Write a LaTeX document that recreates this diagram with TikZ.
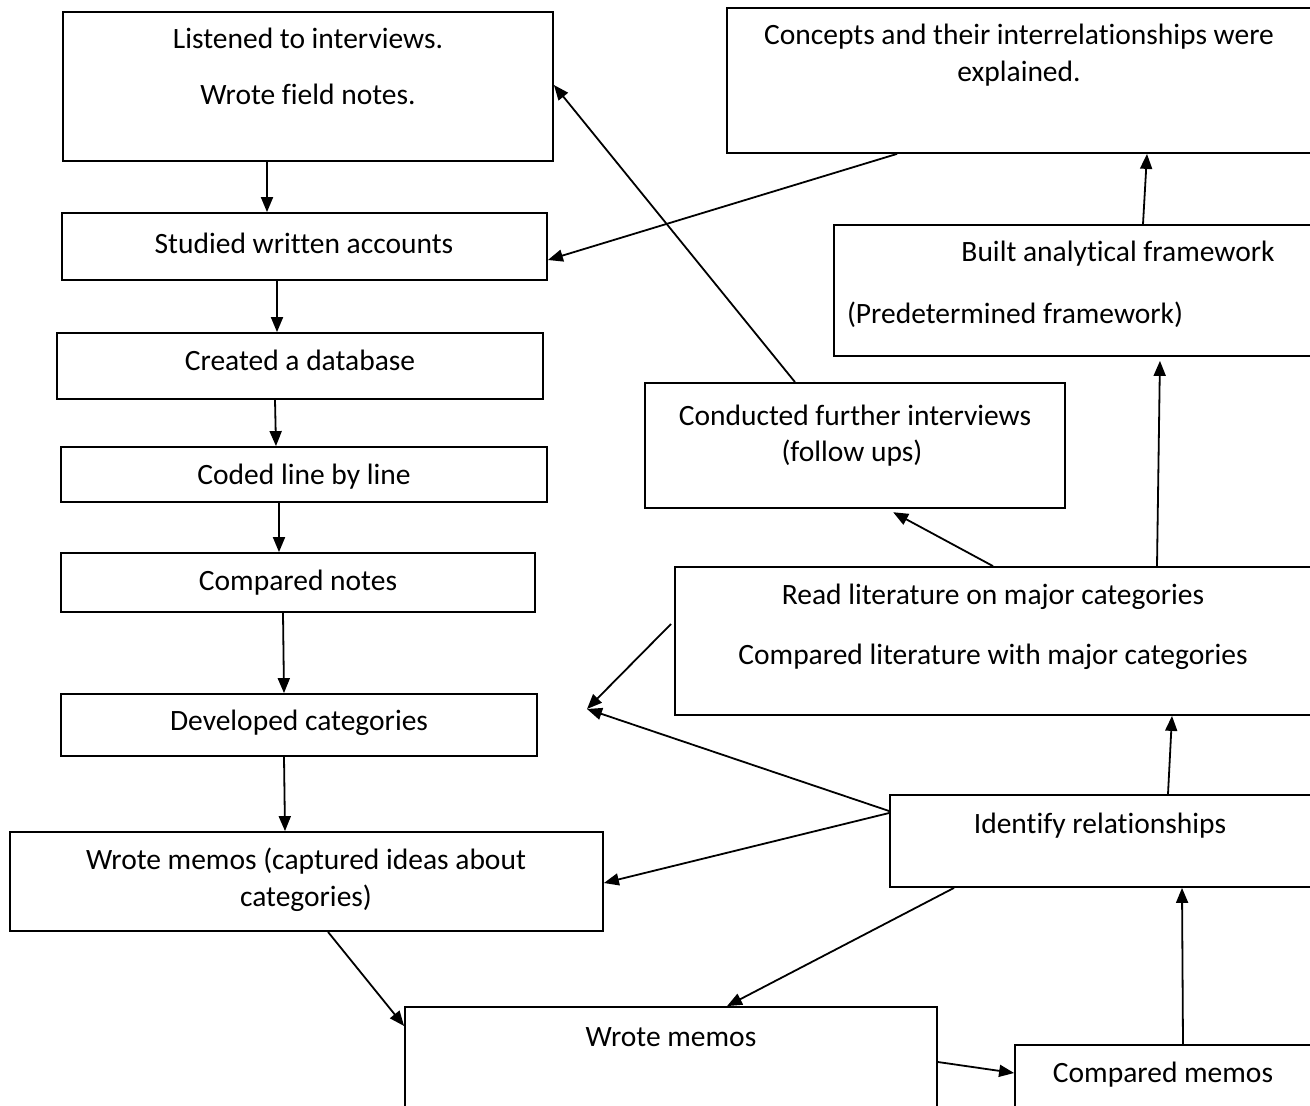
\documentclass[tikz,border=0pt]{standalone}
\usepackage{fontspec}
\setmainfont[Ligatures=CommonOff]{Carlito}
\usetikzlibrary{arrows.meta}
\tikzset{
  box/.style={draw, line width=1.8pt, rectangle, inner sep=0pt},
  txt/.style={inner sep=0pt, font=\fontsize{29.5}{34}\selectfont},
  flow/.style={line width=1.8pt, -{Triangle[length=15pt,width=12pt]}}
}
\begin{document}
\begin{tikzpicture}[x=1pt, y=-1pt]
\useasboundingbox (0,0) rectangle (1310,1106);
\clip (0,0) rectangle (1310,1106);
% boxes
\node[box, minimum width=490pt, minimum height=149pt] (listen) at (308,86.5) {};
\node[box, minimum width=585pt, minimum height=145pt] (concepts) at (1019.5,80.5) {};
\node[box, minimum width=485pt, minimum height=67pt] (studied) at (304.5,246.5) {};
\node[box, minimum width=480pt, minimum height=131pt] (built) at (1074,290.5) {};
\node[box, minimum width=486pt, minimum height=66pt] (created) at (300,366) {};
\node[box, minimum width=420pt, minimum height=125pt] (conducted) at (855,445.5) {};
\node[box, minimum width=486pt, minimum height=55pt] (coded) at (304,474.5) {};
\node[box, minimum width=474pt, minimum height=59pt] (cnotes) at (298,582.5) {};
\node[box, minimum width=640pt, minimum height=148pt] (readlit) at (995,641) {};
\node[box, minimum width=476pt, minimum height=62pt] (developed) at (299,725) {};
\node[box, minimum width=425pt, minimum height=92pt] (identify) at (1102.5,841) {};
\node[box, minimum width=593pt, minimum height=99pt] (memocap) at (306.5,881.5) {};
\node[box, minimum width=532pt, minimum height=120pt] (memos) at (671,1067) {};
\node[box, minimum width=310pt, minimum height=100pt] (cmemos) at (1170,1095) {};
% texts
\node[txt] (listen-a) at (308,38) {Listened to interviews.};
\node[txt] (listen-b) at (308,94) {Wrote field notes.};
\node[txt] (concepts-a) at (1019,37) {Concepts and their interrelationships were};
\node[txt] (concepts-b) at (1019,74) {explained.};
\node[txt] (studied-t) at (304,243) {Studied written accounts};
\node[txt] (built-a) at (1118,254) {Built analytical framework};
\node[txt] (built-b) at (1015,315) {(Predetermined framework)};
\node[txt] (created-t) at (300,360) {Created a database};
\node[txt] (conducted-a) at (855,415) {Conducted further interviews};
\node[txt] (conducted-b) at (852,453) {(follow ups)};
\node[txt] (coded-t) at (304,477) {Coded line by line};
\node[txt] (cnotes-t) at (298,583) {Compared notes};
\node[txt] (readlit-a) at (993,597) {Read literature on major categories};
\node[txt] (readlit-b) at (993,657) {Compared literature with major categories};
\node[txt] (developed-t) at (299,723) {Developed categories};
\node[txt] (identify-t) at (1100,826) {Identify relationships};
\node[txt] (memocap-a) at (306,861) {Wrote memos (captured ideas about};
\node[txt] (memocap-b) at (306,898) {categories)};
\node[txt] (memos-t) at (671,1037) {Wrote memos};
\node[txt] (cmemos-t) at (1163,1075) {Compared memos};
\coordinate (dev-in) at (587,709);
% connectors
\draw[flow] (267,0 |- listen.south) -- (267,0 |- studied.north);
\draw[flow] (277,0 |- studied.south) -- (277,0 |- created.north);
\draw[flow] (275,0 |- created.south) -- (276,0 |- coded.north);
\draw[flow] (279,0 |- coded.south) -- (279,0 |- cnotes.north);
\draw[flow] (283,0 |- cnotes.south) -- (284,0 |- developed.north);
\draw[flow] (284,0 |- developed.south) -- (285,0 |- memocap.north);
\draw[flow] (897,0 |- concepts.south) -- (studied.east |- 0,260);
\draw[flow] (795,0 |- conducted.north) -- (listen.east |- 0,85);
\draw[flow] (1143,0 |- built.north) -- (1147,0 |- concepts.south);
\draw[flow, shorten >=7pt] (993,0 |- readlit.north) -- (887,0 |- conducted.south);
\draw[flow, shorten >=4pt] (1157,0 |- readlit.north) -- (1160,0 |- built.south);
\draw[flow] (671,624) -- (dev-in);
\draw[flow] (identify.west |- 0,811) -- (dev-in);
\draw[flow] (identify.west |- 0,813) -- (memocap.east |- 0,883);
\draw[flow] (954,0 |- identify.south) -- (727,0 |- memos.north);
\draw[flow] (1168,0 |- identify.north) -- (1172,0 |- readlit.south);
\draw[flow] (1183,0 |- cmemos.north) -- (1182,0 |- identify.south);
\draw[flow] (328,0 |- memocap.south) -- (memos.west |- 0,1026);
\draw[flow] (memos.east |- 0,1062) -- (cmemos.west |- 0,1073);
\end{tikzpicture}
\end{document}
